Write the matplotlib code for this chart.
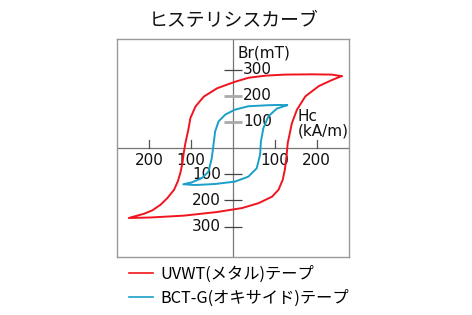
import matplotlib
matplotlib.use("Agg")
import matplotlib.pyplot as plt
from matplotlib.lines import Line2D

plt.rcParams['font.family'] = ['Noto Sans CJK JP', 'DejaVu Sans']

title = "ヒステリシスカーブ"
series_names = ["UVWT(メタル)テープ", "BCT-G(オキサイド)テープ"]
series_colors = ["#f0141e", "#1aa0c8"]

# UVWT loop: Hc (kA/m), Br (mT)
uvwt_h = [259, 236, 189, 125, 78, 38, 6, -37, -69, -89, -101, -106, -113, -117,
          -120, -125, -131, -140, -156, -172, -192, -212, -228, -248,
          -196, -117, -37, 6, 22, 62, 94, 109, 119, 124, 128, 131, 135, 141, 153, 173,
          205, 236, 259]
uvwt_b = [275, 281, 282, 281, 277, 269, 254, 229, 197, 159, 115, 70, 19, -19,
          -57, -95, -127, -159, -191, -216, -238, -251, -258, -267,
          -265, -258, -244, -233, -229, -210, -185, -159, -121, -83, -32, 20, 50, 96, 147, 198,
          237, 260, 275]

# BCT-G loop
bct_h = [129, 110, 85, 37, 5, -18, -34, -42, -46, -50, -58, -74, -98, -118,
         -90, -42, 5, 37, 57, 65, 67, 73, 85, 105, 129]
bct_b = [164, 165, 164, 160, 147, 128, 102, 64, 13, -38, -90, -115, -131, -138,
         -141, -137, -128, -109, -77, -26, 25, 77, 122, 151, 164]

x_ticks = [-200, -100, 100, 200]
x_tick_labels = ["200", "100", "100", "200"]
y_ticks = [300, 200, 100, -100, -200, -300]
y_tick_labels = ["300", "200", "100", "100", "200", "300"]
y_tick_colors = ["#444444", "#aaaaaa", "#aaaaaa", "#444444", "#444444", "#444444"]

W, H = 472, 315
fig = plt.figure(figsize=(W / 100, H / 100), dpi=100)
ax = fig.add_axes([117 / W, 1 - 257 / H, (349 - 117) / W, (257 - 39) / H])
ax.set_xlim(-276, 277)
ax.set_ylim(-416, 417)
ax.set_xticks([])
ax.set_yticks([])
for s in ax.spines.values():
    s.set_color("#999999")
    s.set_linewidth(1.0)

ax.axhline(0, color="#777777", lw=0.9, zorder=1)
ax.axvline(0, color="#777777", lw=0.9, zorder=1)

lab_font = "DejaVu Sans"
tick_fs = 11
for xv, lab in zip(x_ticks, x_tick_labels):
    ax.plot([xv, xv], [0, 31], color="#555555", lw=0.9, zorder=1)
    ax.text(xv, -48, lab, ha="center", va="center", fontsize=tick_fs, color="#111111",
            family=lab_font)
for yv, lab, c in zip(y_ticks, y_tick_labels, y_tick_colors):
    lw = 2.0 if c == "#aaaaaa" else 0.9
    ax.plot([-22, 22], [yv, yv], color=c, lw=lw, zorder=1, solid_capstyle="butt")
    if yv > 0:
        ax.text(24, yv, lab, ha="left", va="center", fontsize=tick_fs, color="#111111",
                family=lab_font)
    else:
        ax.text(-28, yv, lab, ha="right", va="center", fontsize=tick_fs, color="#111111",
                family=lab_font)

ax.text(12, 365, "Br(mT)", ha="left", va="center", fontsize=tick_fs, color="#111111",
        family=lab_font)
ax.text(155, 92, "Hc\n(kA/m)", ha="left", va="center", multialignment="left",
        linespacing=0.95, fontsize=tick_fs, color="#111111", family=lab_font, clip_on=False)

ax.plot(uvwt_h, uvwt_b, color=series_colors[0], lw=1.4, zorder=3)
ax.plot(bct_h, bct_b, color=series_colors[1], lw=1.4, zorder=3)

fig.text(234 / W, 1 - 21 / H, title, ha="center", va="center", fontsize=13.6, color="#111111")

handles = [Line2D([], [], color=c, lw=1.2) for c in series_colors]
fig.legend(handles, series_names, loc="upper left", bbox_to_anchor=(129 / W, 1 - 266 / H),
           frameon=False, fontsize=11.7, handlelength=1.5, handletextpad=0.4,
           labelspacing=0.4, borderpad=0, borderaxespad=0)

fig.savefig("out.png", dpi=100)
